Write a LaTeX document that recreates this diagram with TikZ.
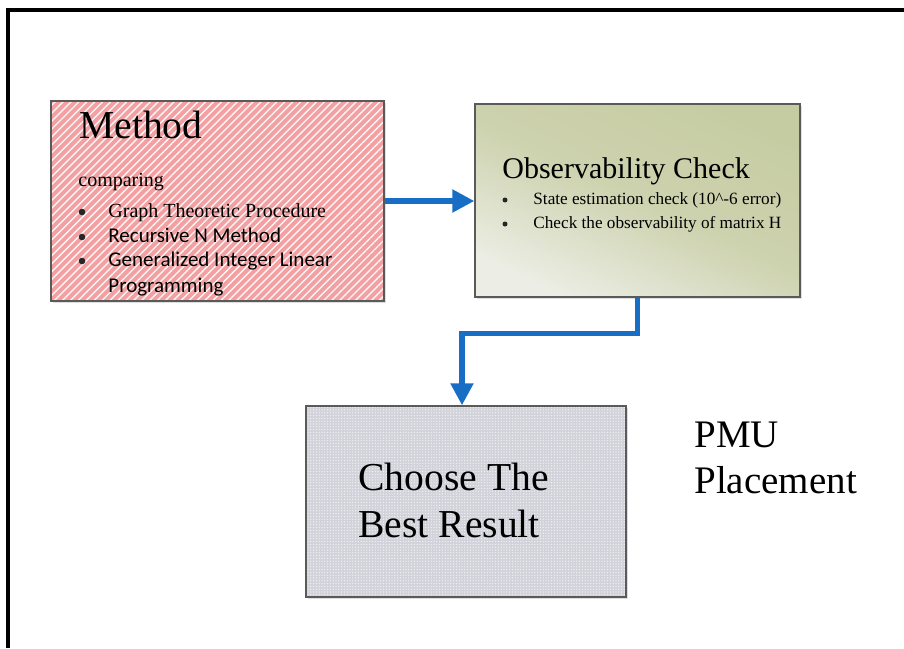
\documentclass[tikz,border=0pt]{standalone}
\usepackage{fontspec}
\setmainfont{Liberation Serif}
\newfontfamily\calibrifont{Carlito}
\usetikzlibrary{arrows.meta,patterns.meta,shadows}

\definecolor{flowblue}{RGB}{24,110,196}
\definecolor{methodpink}{RGB}{242,160,162}
\definecolor{obsdark}{RGB}{198,204,162}
\definecolor{obslight}{RGB}{236,237,228}
\definecolor{resultgray}{RGB}{210,210,218}
\definecolor{boxedge}{RGB}{90,90,90}

\tikzset{
  card/.style={draw=boxedge, line width=0.7pt, inner sep=0pt,
    drop shadow={shadow xshift=1.2pt, shadow yshift=-1.2pt, opacity=0.25, fill=gray}},
  txt/.style={inner sep=0pt, anchor=base west},
  dotbig/.style={circle, fill=black!85, inner sep=0pt, minimum size=3.3pt},
  dotsmall/.style={circle, fill=black!85, inner sep=0pt, minimum size=2.5pt},
  flow/.style={draw=flowblue, line width=2.6pt,
    -{Triangle[length=11pt,width=11pt]}},
}

\begin{document}
\begin{tikzpicture}[x=0.5pt,y=-0.5pt]
  \useasboundingbox (0,0) rectangle (904,648);
  \fill[white] (0,0) rectangle (904,648);
  % outer frame (top and left edges)
  \draw[line width=1.6pt] (8,648) -- (8,10) -- (904,10);

  % boxes
  \node[card, minimum width=166.5pt, minimum height=100pt,
        preaction={fill=methodpink},
        pattern={Lines[angle=45,distance=2.8pt,line width=0.7pt]},
        pattern color=white!90!methodpink] (method) at (217.5,201) {};
  \node[card, minimum width=162.5pt, minimum height=96.5pt,
        shading=axis, top color=obsdark, bottom color=obslight,
        middle color=obsdark!80!obslight,
        shading angle=-25] (obs) at (637.5,200.5) {};
  \node[card, minimum width=160pt, minimum height=95.5pt,
        preaction={fill=resultgray},
        pattern={Dots[distance=1.4pt,radius=0.33pt]},
        pattern color=white!75!resultgray] (choose) at (466,501.5) {};

  % method text
  \node[txt, font=\fontsize{19.8}{23}\selectfont] (mtitle) at (79,138) {Method};
  \node[txt, font=\fontsize{10}{12}\selectfont] (mcomp) at (78,186) {comparing};
  \node[dotbig] (mb1) at (82,212) {};
  \node[txt, font=\fontsize{10}{12}\selectfont] (mi1) at (108,217) {Graph Theoretic Procedure};
  \node[dotbig] (mb2) at (82,237) {};
  \node[txt, font=\calibrifont\fontsize{10.5}{12}\selectfont] (mi2) at (108,242) {Recursive N Method};
  \node[dotbig] (mb3) at (82,261) {};
  \node[txt, font=\calibrifont\fontsize{10.5}{12}\selectfont] (mi3) at (108,266) {Generalized Integer Linear};
  \node[txt, font=\calibrifont\fontsize{10.5}{12}\selectfont] (mi4) at (108,292) {Programming};

  % observability text
  \node[txt, font=\fontsize{15}{18}\selectfont] (otitle) at (502,178) {Observability Check};
  \node[dotsmall] (ob1) at (505,200) {};
  \node[txt, font=\fontsize{8.6}{10}\selectfont] (oi1) at (533,204) {State estimation check (10\^{}-6 error)};
  \node[dotsmall] (ob2) at (505,224) {};
  \node[txt, font=\fontsize{8.6}{10}\selectfont] (oi2) at (533,228) {Check the observability of matrix H};

  % result text
  \node[txt, font=\fontsize{19.8}{23}\selectfont] (c1) at (358,490) {Choose The};
  \node[txt, font=\fontsize{19.8}{23}\selectfont] (c2) at (358,537) {Best Result};

  % side label
  \node[txt, font=\fontsize{19.5}{23}\selectfont] (p1) at (694,447) {PMU};
  \node[txt, font=\fontsize{19.5}{23}\selectfont] (p2) at (694,493) {Placement};

  % connectors
  \draw[flow] (method.east) -- (method.east -| obs.west);
  \draw[flow] (obs.south) -- ++(0,36) -| ([xshift=-2pt]choose.north);
\end{tikzpicture}
\end{document}
